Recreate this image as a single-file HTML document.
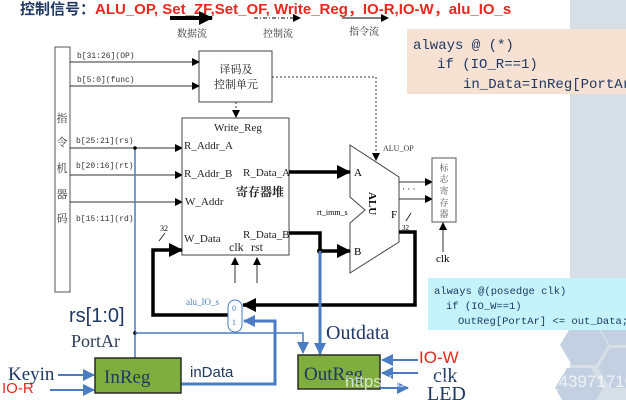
<!DOCTYPE html>
<html><head><meta charset="utf-8"><style>
html,body{margin:0;padding:0;background:#fff;}
svg{display:block;}
</style></head><body>
<svg width="626" height="400" viewBox="0 0 626 400" xmlns="http://www.w3.org/2000/svg" font-family="Liberation Serif, 'Noto Serif CJK SC', serif">
<defs>
<marker id="ab" markerWidth="8" markerHeight="8" refX="7" refY="4" orient="auto" markerUnits="userSpaceOnUse"><path d="M0,0 L8,4 L0,8 z" fill="#000"/></marker>
<marker id="abig" markerWidth="14" markerHeight="14" refX="13" refY="7" orient="auto" markerUnits="userSpaceOnUse"><path d="M0,0 L14,7 L0,14 z" fill="#000"/></marker>
<marker id="bl" markerWidth="12" markerHeight="12" refX="11" refY="6" orient="auto" markerUnits="userSpaceOnUse"><path d="M0,0 L12,6 L0,12 z" fill="#4a7cc4"/></marker>
</defs>
<rect x="570" y="0" width="56" height="400" fill="#d6dee6"/>
<g fill="#c2d0e2">
<polygon points="560,345 572,325 596,325 608,345 596,365 572,365"/>
<polygon points="598,325 610,305 634,305 646,325 634,345 610,345"/>
<polygon points="598,368 610,348 634,348 646,368 634,388 610,388"/>
<polygon points="555,388 567,368 591,368 603,388 591,408 567,408"/>
</g>
<text x="20" y="14" font-family="Liberation Sans, 'Noto Sans CJK SC', sans-serif" font-size="15" font-weight="bold" fill="#1f3864">控制信号：<tspan fill="#e8281e">ALU_OP, Set_ZF,Set_OF, Write_Reg，IO-R,IO-W，alu_IO_s</tspan></text>
<line x1="170" y1="18" x2="212" y2="18" stroke="#000" stroke-width="4" marker-end="url(#abig)"/>
<line x1="254" y1="18" x2="300" y2="18" stroke="#000" stroke-width="1" stroke-dasharray="4,2,1,2" marker-end="url(#ab)"/>
<line x1="342" y1="18" x2="388" y2="18" stroke="#000" stroke-width="1" marker-end="url(#ab)"/>
<g font-size="10" fill="#333" text-anchor="middle"><text x="192" y="37">数据流</text><text x="278" y="37">控制流</text><text x="364" y="35">指令流</text></g>
<rect x="407" y="29" width="219" height="65" fill="#f6e1d2"/>
<g font-family="Liberation Mono, monospace" font-size="14" fill="#1f3864"><text x="413" y="49">always @ (*)</text><text x="437" y="68">if (IO_R==1)</text><text x="463" y="88">in_Data=InReg[PortAr]</text></g>
<rect x="428" y="278" width="198" height="52" fill="#c4f3fb"/>
<g font-family="Liberation Mono, monospace" font-size="10.5" fill="#1f3864"><text x="434" y="294">always @(posedge clk)</text><text x="446" y="309">if (IO_W==1)</text><text x="458" y="324">OutReg[PortAr] &lt;= out_Data;</text></g>
<rect x="55" y="47" width="15" height="245" fill="#fff" stroke="#555"/>
<g font-size="11" fill="#333" text-anchor="middle"><text x="62" y="122">指</text><text x="62" y="146">令</text><text x="62" y="172">机</text><text x="62" y="198">器</text><text x="62" y="222">码</text></g>
<rect x="199" y="51" width="73" height="51" fill="#fff" stroke="#444"/>
<g font-size="11" fill="#222" text-anchor="middle"><text x="236" y="73">译码及</text><text x="236" y="88">控制单元</text></g>
<g stroke="#333" stroke-width="1" marker-end="url(#ab)"><line x1="70" y1="62" x2="199" y2="62"/><line x1="70" y1="86" x2="199" y2="86"/><line x1="70" y1="148" x2="182" y2="148"/><line x1="70" y1="175" x2="182" y2="175"/><line x1="70" y1="202" x2="182" y2="202"/></g>
<g font-family="Liberation Mono, monospace" font-size="8" fill="#333"><text x="77" y="58">b[31:26](OP)</text><text x="77" y="82">b[5:0](func)</text><text x="76" y="143">b[25:21](rs)</text><text x="76" y="168">b[20:16](rt)</text><text x="76" y="221">b[15:11](rd)</text></g>
<line x1="236" y1="102" x2="236" y2="117" stroke="#333" stroke-dasharray="2,2" marker-end="url(#ab)"/>
<polyline points="272,77 376,77 376,160" fill="none" stroke="#333" stroke-dasharray="2,2" marker-end="url(#ab)"/>
<text x="383" y="151" font-size="8" fill="#333">ALU_OP</text>
<rect x="182" y="118" width="107" height="137" fill="#fff" stroke="#444"/>
<g font-size="11" fill="#222"><text x="214" y="131">Write_Reg</text><text x="184" y="149">R_Addr_A</text><text x="184" y="177">R_Addr_B</text><text x="185" y="205">W_Addr</text><text x="184" y="242">W_Data</text><text x="243" y="176">R_Data_A</text><text x="243" y="238">R_Data_B</text><text x="229" y="251" font-size="12">clk</text><text x="251" y="251" font-size="12">rst</text><text x="236" y="196" font-size="12" font-weight="bold">寄存器堆</text></g>
<g stroke="#333"><line x1="235" y1="283" x2="235" y2="258" marker-end="url(#ab)"/><line x1="257" y1="283" x2="257" y2="258" marker-end="url(#ab)"/></g>
<text x="160" y="231" font-size="8">32</text><line x1="159" y1="241" x2="165" y2="233" stroke="#333"/>
<polygon points="350,145 399,177 399,242 350,273 350,223 365,210 350,197" fill="#fff" stroke="#444"/>
<text x="354" y="176" font-size="11">A</text><text x="354" y="255" font-size="11">B</text><text x="391" y="218" font-size="11">F</text>
<text x="369" y="192" font-size="11" font-weight="bold" transform="rotate(90 369 192)">ALU</text>
<text x="317" y="215" font-size="8">rt_imm_s</text>
<line x1="289" y1="172" x2="350" y2="172" stroke="#000" stroke-width="3.5" marker-end="url(#abig)"/>
<polyline points="289,233 320,233 320,251 350,251" fill="none" stroke="#000" stroke-width="3.5" marker-end="url(#abig)"/>
<circle cx="320" cy="251" r="3" fill="#000"/>
<g stroke="#333" marker-end="url(#ab)"><line x1="399" y1="182" x2="432" y2="182"/><line x1="399" y1="199" x2="432" y2="199"/><line x1="443" y1="252" x2="443" y2="223"/></g>
<text x="402" y="192" font-size="9">· · ·</text>
<rect x="432" y="158" width="24" height="64" fill="#fff" stroke="#555"/>
<g font-size="9" fill="#555" text-anchor="middle"><text x="444" y="171">标</text><text x="444" y="182">志</text><text x="444" y="194">寄</text><text x="444" y="206">存</text><text x="444" y="217">器</text></g>
<text x="436" y="262" font-size="11">clk</text>
<text x="402" y="230" font-size="7">32</text><line x1="406" y1="221" x2="411" y2="213" stroke="#333"/>
<polyline points="399,232 415,232 415,305 243,305" fill="none" stroke="#000" stroke-width="3.5" marker-end="url(#abig)"/>
<polyline points="228,315 153,315 153,250 182,250" fill="none" stroke="#000" stroke-width="3.5" marker-end="url(#abig)"/>
<rect x="228" y="300" width="14" height="32" rx="7" fill="#fff" stroke="#4a7cc4"/>
<text x="232" y="311" font-size="8" fill="#4a7cc4">0</text><text x="232" y="325" font-size="8" fill="#4a7cc4">1</text>
<text x="186" y="305" font-size="9" fill="#4a7cc4">alu_IO_s</text>
<line x1="135" y1="148" x2="135" y2="358" stroke="#4a7cc4" stroke-width="1.5"/>
<circle cx="135" cy="148" r="1.8" fill="#000"/><circle cx="135" cy="333" r="1.8" fill="#000"/>
<polyline points="135,333 303,333 303,353" fill="none" stroke="#4a7cc4" stroke-width="1.5" marker-end="url(#bl)"/>
<line x1="320" y1="251" x2="320" y2="354" stroke="#4a7cc4" stroke-width="3" marker-end="url(#bl)"/>
<polyline points="181,384 275,384 275,321 244,321" fill="none" stroke="#4a7cc4" stroke-width="3" marker-end="url(#bl)"/>
<text x="69" y="322" font-family="Liberation Sans, sans-serif" font-size="20" fill="#1f3864">rs[1:0]</text>
<text x="71" y="347" font-size="18" fill="#2e3d55">PortAr</text>
<rect x="95" y="358" width="86" height="35" fill="#7fae3f" stroke="#2a2a2a" stroke-width="1.5"/>
<text x="104" y="383" font-size="19" fill="#1f3864">InReg</text>
<text x="8" y="380" font-size="19" fill="#1f3864">Keyin</text>
<text x="2" y="393" font-family="Liberation Sans, sans-serif" font-size="15" fill="#e8281e">IO-R</text>
<line x1="58" y1="375" x2="94" y2="375" stroke="#4a7cc4" stroke-width="2" marker-end="url(#bl)"/>
<line x1="50" y1="390" x2="94" y2="390" stroke="#4a7cc4" stroke-width="2" marker-end="url(#bl)"/>
<text x="190" y="377" font-family="Liberation Sans, sans-serif" font-size="15" fill="#1f3864">inData</text>
<rect x="298" y="355" width="82" height="34" fill="#7fae3f" stroke="#2a2a2a" stroke-width="1.5"/>
<text x="304" y="380" font-size="19" fill="#1f3864">OutReg</text>
<text x="326" y="339" font-size="20" fill="#1f3864">Outdata</text>
<text x="419" y="363" font-family="Liberation Sans, sans-serif" font-size="17" fill="#e8281e">IO-W</text>
<text x="433" y="382" font-size="20" fill="#1f3864">clk</text>
<text x="427" y="400" font-size="20" fill="#1f3864">LED</text>
<line x1="418" y1="360" x2="382" y2="360" stroke="#4a7cc4" stroke-width="2" marker-end="url(#bl)"/>
<line x1="418" y1="373" x2="382" y2="373" stroke="#4a7cc4" stroke-width="2" marker-end="url(#bl)"/>
<line x1="380" y1="388" x2="408" y2="388" stroke="#4a7cc4" stroke-width="2" marker-end="url(#bl)"/>
<text x="345" y="387" font-family="Liberation Sans, sans-serif" font-size="17" fill="#fff" fill-opacity="0.7">https://blog.csdn.net/weixin_43971710</text>
</svg>
</body></html>
